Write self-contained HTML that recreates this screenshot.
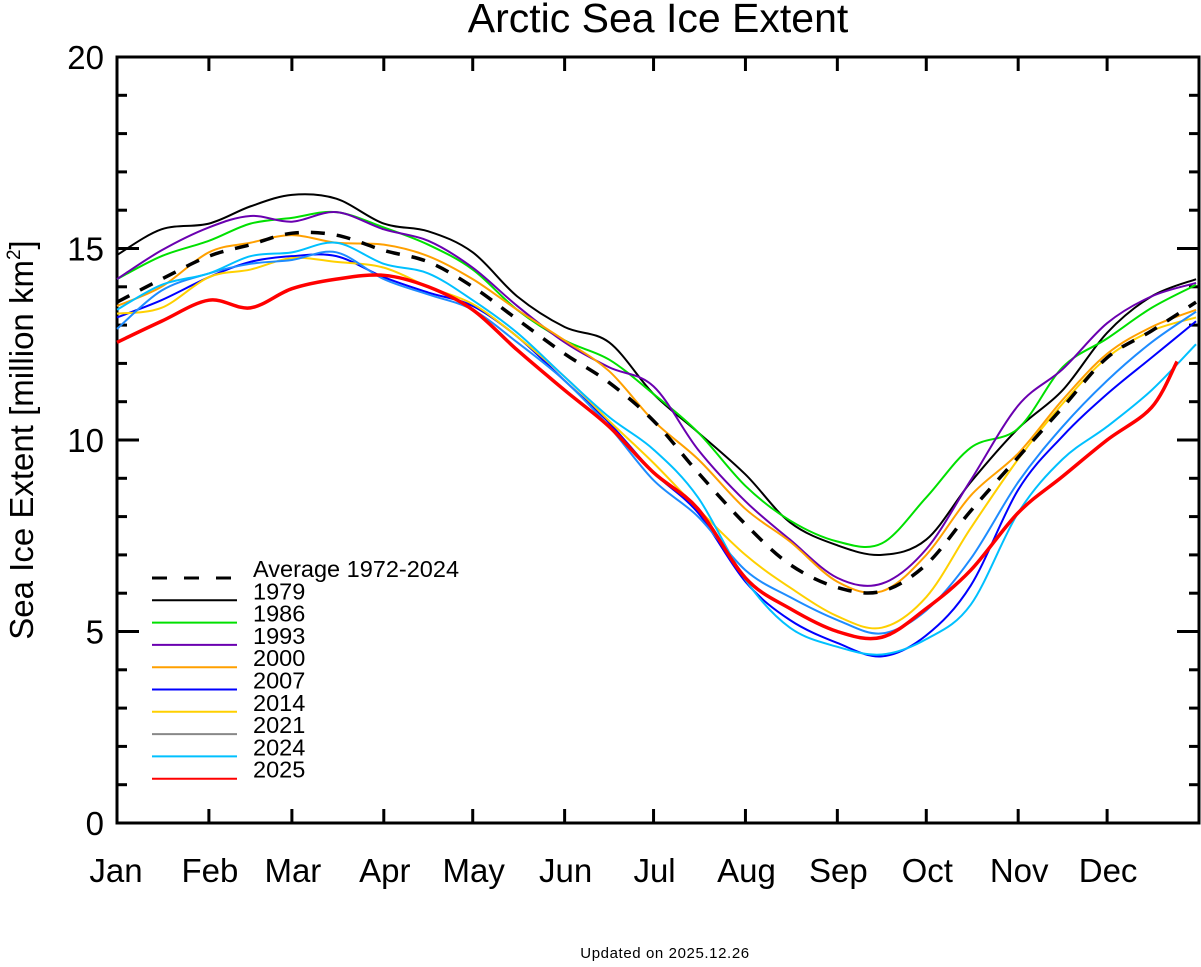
<!DOCTYPE html>
<html><head><meta charset="utf-8">
<style>
body{margin:0;background:#fff;}
svg text{font-family:"Liberation Sans",Arial,sans-serif;fill:#000;}
</style></head>
<body>
<svg id="chart" width="1201" height="962" xmlns="http://www.w3.org/2000/svg">
<text x="658" y="32" font-size="41" text-anchor="middle">Arctic Sea Ice Extent</text>
<text transform="translate(33,440) rotate(-90)" font-size="33" text-anchor="middle">Sea Ice Extent [million km<tspan font-size="19" dy="-13">2</tspan><tspan dy="13">]</tspan></text>
<text x="665" y="958" font-size="15" letter-spacing="0.6" text-anchor="middle">Updated on 2025.12.26</text>
<g id="axes"></g>
<g id="series"></g>
<g id="legend"></g>
</svg>
<script>
const days = [0,15,31,45,59,74,90,105,120,135,151,166,181,196,212,227,243,258,273,288,304,319,334,349,364];
const avg  = [13.6,14.2,14.8,15.1,15.4,15.35,14.95,14.65,14.0,13.15,12.25,11.5,10.5,9.15,7.8,6.75,6.15,6.05,6.75,8.15,9.55,10.85,12.15,12.85,13.6];
const y1979 = [14.83,15.5,15.65,16.1,16.4,16.3,15.65,15.45,14.9,13.75,12.95,12.55,11.2,10.2,9.1,7.85,7.25,7.0,7.4,8.9,10.3,11.3,12.8,13.75,14.2];
const y1986 = [14.2,14.8,15.2,15.65,15.8,15.95,15.55,15.1,14.45,13.4,12.6,12.1,11.2,10.2,8.8,7.9,7.35,7.3,8.5,9.8,10.3,11.9,12.65,13.45,14.05];
const y1993 = [14.2,14.95,15.55,15.85,15.7,15.95,15.5,15.2,14.5,13.5,12.55,11.9,11.4,9.75,8.4,7.4,6.4,6.25,7.15,8.95,10.9,11.85,13.05,13.75,14.1];
const y2000 = [13.5,14.0,14.9,15.15,15.35,15.15,15.1,14.8,14.2,13.4,12.6,11.8,10.5,9.5,8.2,7.35,6.3,6.05,7.0,8.55,9.65,11.05,12.25,12.95,13.4];
const y2007 = [13.2,13.65,14.25,14.65,14.8,14.8,14.25,13.85,13.5,12.7,11.55,10.45,9.15,8.1,6.3,5.3,4.7,4.35,4.9,6.2,8.7,10.1,11.2,12.15,13.1];
const y2014 = [13.3,13.45,14.25,14.45,14.75,14.65,14.5,14.0,13.55,12.7,11.65,10.5,9.4,8.2,7.0,6.15,5.4,5.1,5.9,7.7,9.5,10.95,12.15,12.85,13.2];
const y2021 = [12.9,13.9,14.35,14.6,14.7,14.9,14.2,13.8,13.4,12.55,11.55,10.35,8.95,8.0,6.6,5.9,5.3,4.95,5.55,6.9,8.9,10.35,11.55,12.55,13.35];
const y2024 = [13.4,14.05,14.35,14.8,14.9,15.15,14.6,14.35,13.65,12.8,11.65,10.6,9.75,8.5,6.35,5.1,4.6,4.4,4.8,5.7,8.1,9.5,10.35,11.3,12.5];
const y2025 = [12.55,13.1,13.65,13.45,13.95,14.2,14.3,14.0,13.4,12.35,11.3,10.35,9.15,8.2,6.4,5.6,5.0,4.85,5.6,6.6,8.1,9.05,10.0,10.85,null];
const y2025EndDay = 357.6, y2025EndVal = 12.05;
const yTicks = [0,5,10,15,20];
const monthLabels = ["Jan","Feb","Mar","Apr","May","Jun","Jul","Aug","Sep","Oct","Nov","Dec"];
const monthStarts = [0,31,59,90,120,151,181,212,243,273,304,334];
const legendLabels = ["Average 1972-2024","1979","1986","1993","2000","2007","2014","2021","2024","2025"];

const L=117,R=1199,T=57,B=823;
const xs=d=>L+d*(R-L)/365;
const ys=v=>B-v*(B-T)/20;
const NS="http://www.w3.org/2000/svg";
function mk(tag,attrs,parent){const e=document.createElementNS(NS,tag);for(const k in attrs)e.setAttribute(k,attrs[k]);parent.appendChild(e);return e;}
const axes=document.getElementById('axes');
const box=mk('rect',{x:L,y:T,width:R-L,height:B-T,fill:'none',stroke:'#000','stroke-width':3},axes);


for(let v=0;v<=20;v++){
  const len=(v%5===0)?22:10;
  const t1=mk('line',{x1:L,x2:L+len,y1:ys(v),y2:ys(v),stroke:'#000','stroke-width':3},axes);
  
  
  const t2=mk('line',{x1:R,x2:R-len,y1:ys(v),y2:ys(v),stroke:'#000','stroke-width':3},axes);
  
  
}
yTicks.forEach(v=>{
  const t=mk('text',{x:104,y:ys(v)+12,'font-size':33,'text-anchor':'end'},axes);
  t.textContent=v;
  
  
});
monthStarts.forEach((d,i)=>{
  if(i>0){
    const a=mk('line',{x1:xs(d),x2:xs(d),y1:B,y2:B-14,stroke:'#000','stroke-width':3},axes);
    
    
    const b=mk('line',{x1:xs(d),x2:xs(d),y1:T,y2:T+14,stroke:'#000','stroke-width':3},axes);
    
    
  }
  const t=mk('text',{x:xs(d)+1,y:882,'font-size':33,'text-anchor':'middle'},axes);
  if(i===0)t.setAttribute('x',116);
  t.textContent=monthLabels[i];
  
  
});
function pathFor(dd,vv){
  const p=[];dd.forEach((d,i)=>{if(vv[i]!==null&&vv[i]!==undefined)p.push([xs(d),ys(vv[i])]);});
  let s=`M${p[0][0]},${p[0][1]}`;
  for(let i=0;i<p.length-1;i++){
    const p0=p[i-1]||p[i],p1=p[i],p2=p[i+1],p3=p[i+2]||p2;
    const c1=[p1[0]+(p2[0]-p0[0])/6,p1[1]+(p2[1]-p0[1])/6];
    const c2=[p2[0]-(p3[0]-p1[0])/6,p2[1]-(p3[1]-p1[1])/6];
    s+=` C${c1[0]},${c1[1]} ${c2[0]},${c2[1]} ${p2[0]},${p2[1]}`;
  }
  return s;
}
const sg=document.getElementById('series');
const defs=[
 ['line-1979',y1979,'#000',2,null,days],
 ['line-1986',y1986,'#00e000',2,null,days],
 ['line-1993',y1993,'#6a00b0',2,null,days],
 ['line-2000',y2000,'#ffa000',2,null,days],
 ['line-2007',y2007,'#0000ff',2,null,days],
 ['line-2014',y2014,'#ffd000',2,null,days],
 ['line-2021',y2021,'#1e8cff',2,null,days],
 ['line-2024',y2024,'#00c0ff',2,null,days],
 ['line-2025',y2025.slice(0,24).concat([y2025EndVal]),'#ff0000',3.5,null,days.slice(0,24).concat([y2025EndDay])],
 ['line-average',avg,'#000',3.5,'14,12',days]
];
defs.forEach(([n,v,c,w,da,dd])=>{
  const a={d:pathFor(dd,v),fill:'none',stroke:c,'stroke-width':w};
  if(da)a['stroke-dasharray']=da;
  const e=mk('path',a,sg);
  
  
});
const lg=document.getElementById('legend');
const lcolors=['#000','#000','#00e000','#6a00b0','#ffa000','#0000ff','#ffd000','#888','#00c0ff','#ff0000'];
legendLabels.forEach((lab,i)=>{
  const y=578+i*22.3;
  const a={x1:152,x2:237,y1:y,y2:y,stroke:lcolors[i],'stroke-width':i===0?3:2};
  if(i===0)a['stroke-dasharray']='15,17';
  const ln=mk('line',a,lg);
  
  
  const t=mk('text',{x:253,y:y-1,'font-size':23.5},lg);
  t.textContent=lab;
  
  
});
</script>
</body></html>
